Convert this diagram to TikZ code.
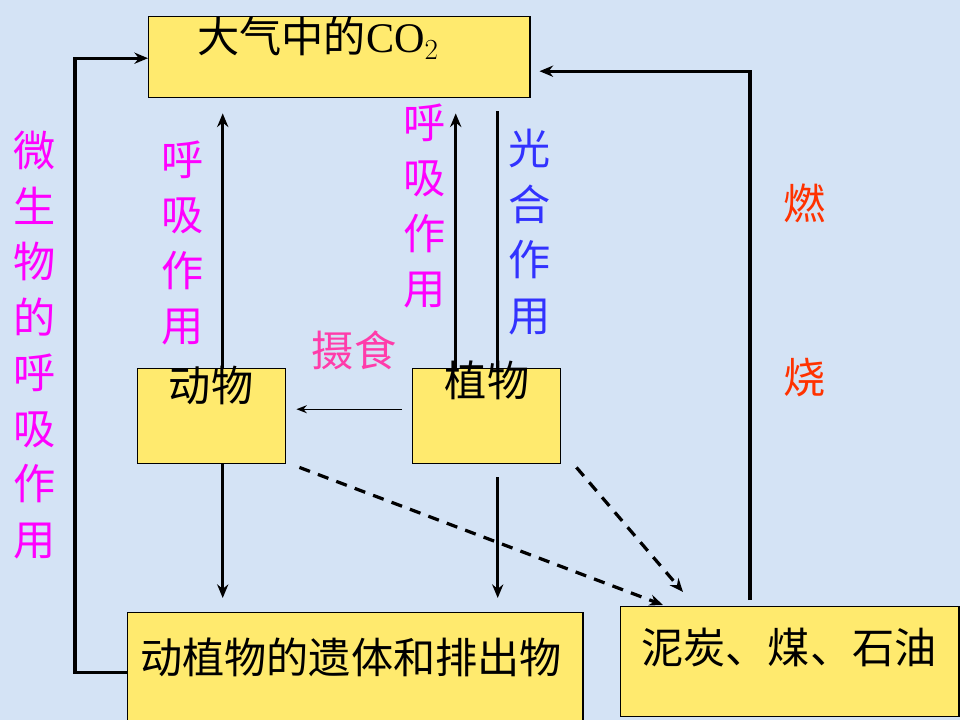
\documentclass[tikz,border=0pt]{standalone}
\usepackage{fontspec}
\setmainfont{Liberation Serif}
\newfontfamily\cjk{Noto Sans CJK SC}
\usetikzlibrary{positioning,calc,arrows.meta}

\definecolor{sky}{RGB}{212,227,245}
\definecolor{boxyellow}{RGB}{255,234,110}
\definecolor{huxi}{RGB}{255,0,255}
\definecolor{sheshi}{RGB}{255,60,170}
\definecolor{guanghe}{RGB}{50,50,255}
\definecolor{ranshao}{RGB}{255,50,0}

\tikzset{
  box/.style={draw,fill=boxyellow,line width=1pt,anchor=north west,inner sep=0pt},
  word/.style={inner sep=0pt,font=\cjk\fontsize{30}{30}\selectfont},
  column/.style={inner sep=0pt,align=center,font=\cjk\fontsize{30}{39.5}\selectfont},
  flow/.style={line width=2.3pt,-{Stealth[length=3.4mm,width=2.8mm]}},
  fossil line/.style={flow,dashed,dash pattern=on 8pt off 6pt}
}

\begin{document}
\begin{tikzpicture}[x=0.025cm,y=-0.025cm]
\useasboundingbox (0,0) rectangle (960,720);
\fill[sky] (0,0) rectangle (960,720);

% boxes
\node[box,minimum width=9.525cm,minimum height=2.025cm] (co2) at (148,16) {};
\node[box,minimum width=3.7cm,minimum height=2.375cm] (animal) at (137,368) {};
\node[box,minimum width=3.7cm,minimum height=2.375cm] (plant) at (412,368) {};
\node[box,minimum width=11.375cm,minimum height=3cm] (remains) at (127,612) {};
\node[box,minimum width=8.45cm,minimum height=2.75cm] (fossil) at (620,606) {};

% box texts
\node[word,anchor=west] (co2txt) at (197,38) {大气中的\fontspec{Liberation Serif}CO$_2$};
\node[word] (animaltxt) at (211,385) {动物};
\node[word] (planttxt) at (487,380) {植物};
\node[word] (remainstxt) at (351,657) {动植物的遗体和排出物};
\node[word] (fossiltxt) at (789,648) {泥炭、煤、石油};

% labels
\node[column,text=huxi] (microbe) at (35,345) {微\\生\\物\\的\\呼\\吸\\作\\用};
\node[column,text=huxi] (resp1) at (183,243) {呼\\吸\\作\\用};
\node[column,text=huxi] (resp2) at (425,206) {呼\\吸\\作\\用};
\node[column,text=guanghe] (photo) at (530,232) {光\\合\\作\\用};
\node[word,text=sheshi] (eat) at (354,350) {摄食};
\node[word,text=ranshao] (burn1) at (805,203) {燃};
\node[word,text=ranshao] (burn2) at (805,378) {烧};

% connectors
\coordinate (left) at (75,0);
\coordinate (right) at (750,0);
\draw[flow] (remains.west) -- (remains.west -| left) -- ($(co2.west -| left)+(0,1)$) -- ($(co2.west)+(0,1)$);
\draw[flow] ($(fossil.north -| right)+(0,-6)$) -- ($(co2.east -| right)+(0,14)$) -- ($(co2.east)+(9,14)$);
\draw[flow] ($(animal.north)+(11,0)$) -- ($(co2.south -| animal.north)+(11,15)$);
\draw[flow] ($(plant.north)+(-31,0)$) -- ($(co2.south -| plant.north)+(-31,15)$);
\draw[line width=2.3pt] ($(co2.south -| plant.north)+(11,13)$) -- ($(plant.north)+(11,0)$);
\draw[flow] ($(animal.south)+(11,0)$) -- ($(remains.north -| animal.south)+(11,-14)$);
\draw[flow] ($(plant.south)+(11,13)$) -- ($(remains.north -| plant.south)+(11,-14)$);
\draw[line width=1pt,-{Stealth[length=2.6mm,width=2mm]}] ($(plant.west)+(-10,-7)$) -- ($(animal.east)+(10,-7)$);
\draw[fossil line] ($(animal.south east)+(13,3)$) -- ($(fossil.north west)+(43,-1)$);
\draw[fossil line] ($(plant.south east)+(15,3)$) -- ($(fossil.north west)+(63,-14)$);
\end{tikzpicture}
\end{document}
